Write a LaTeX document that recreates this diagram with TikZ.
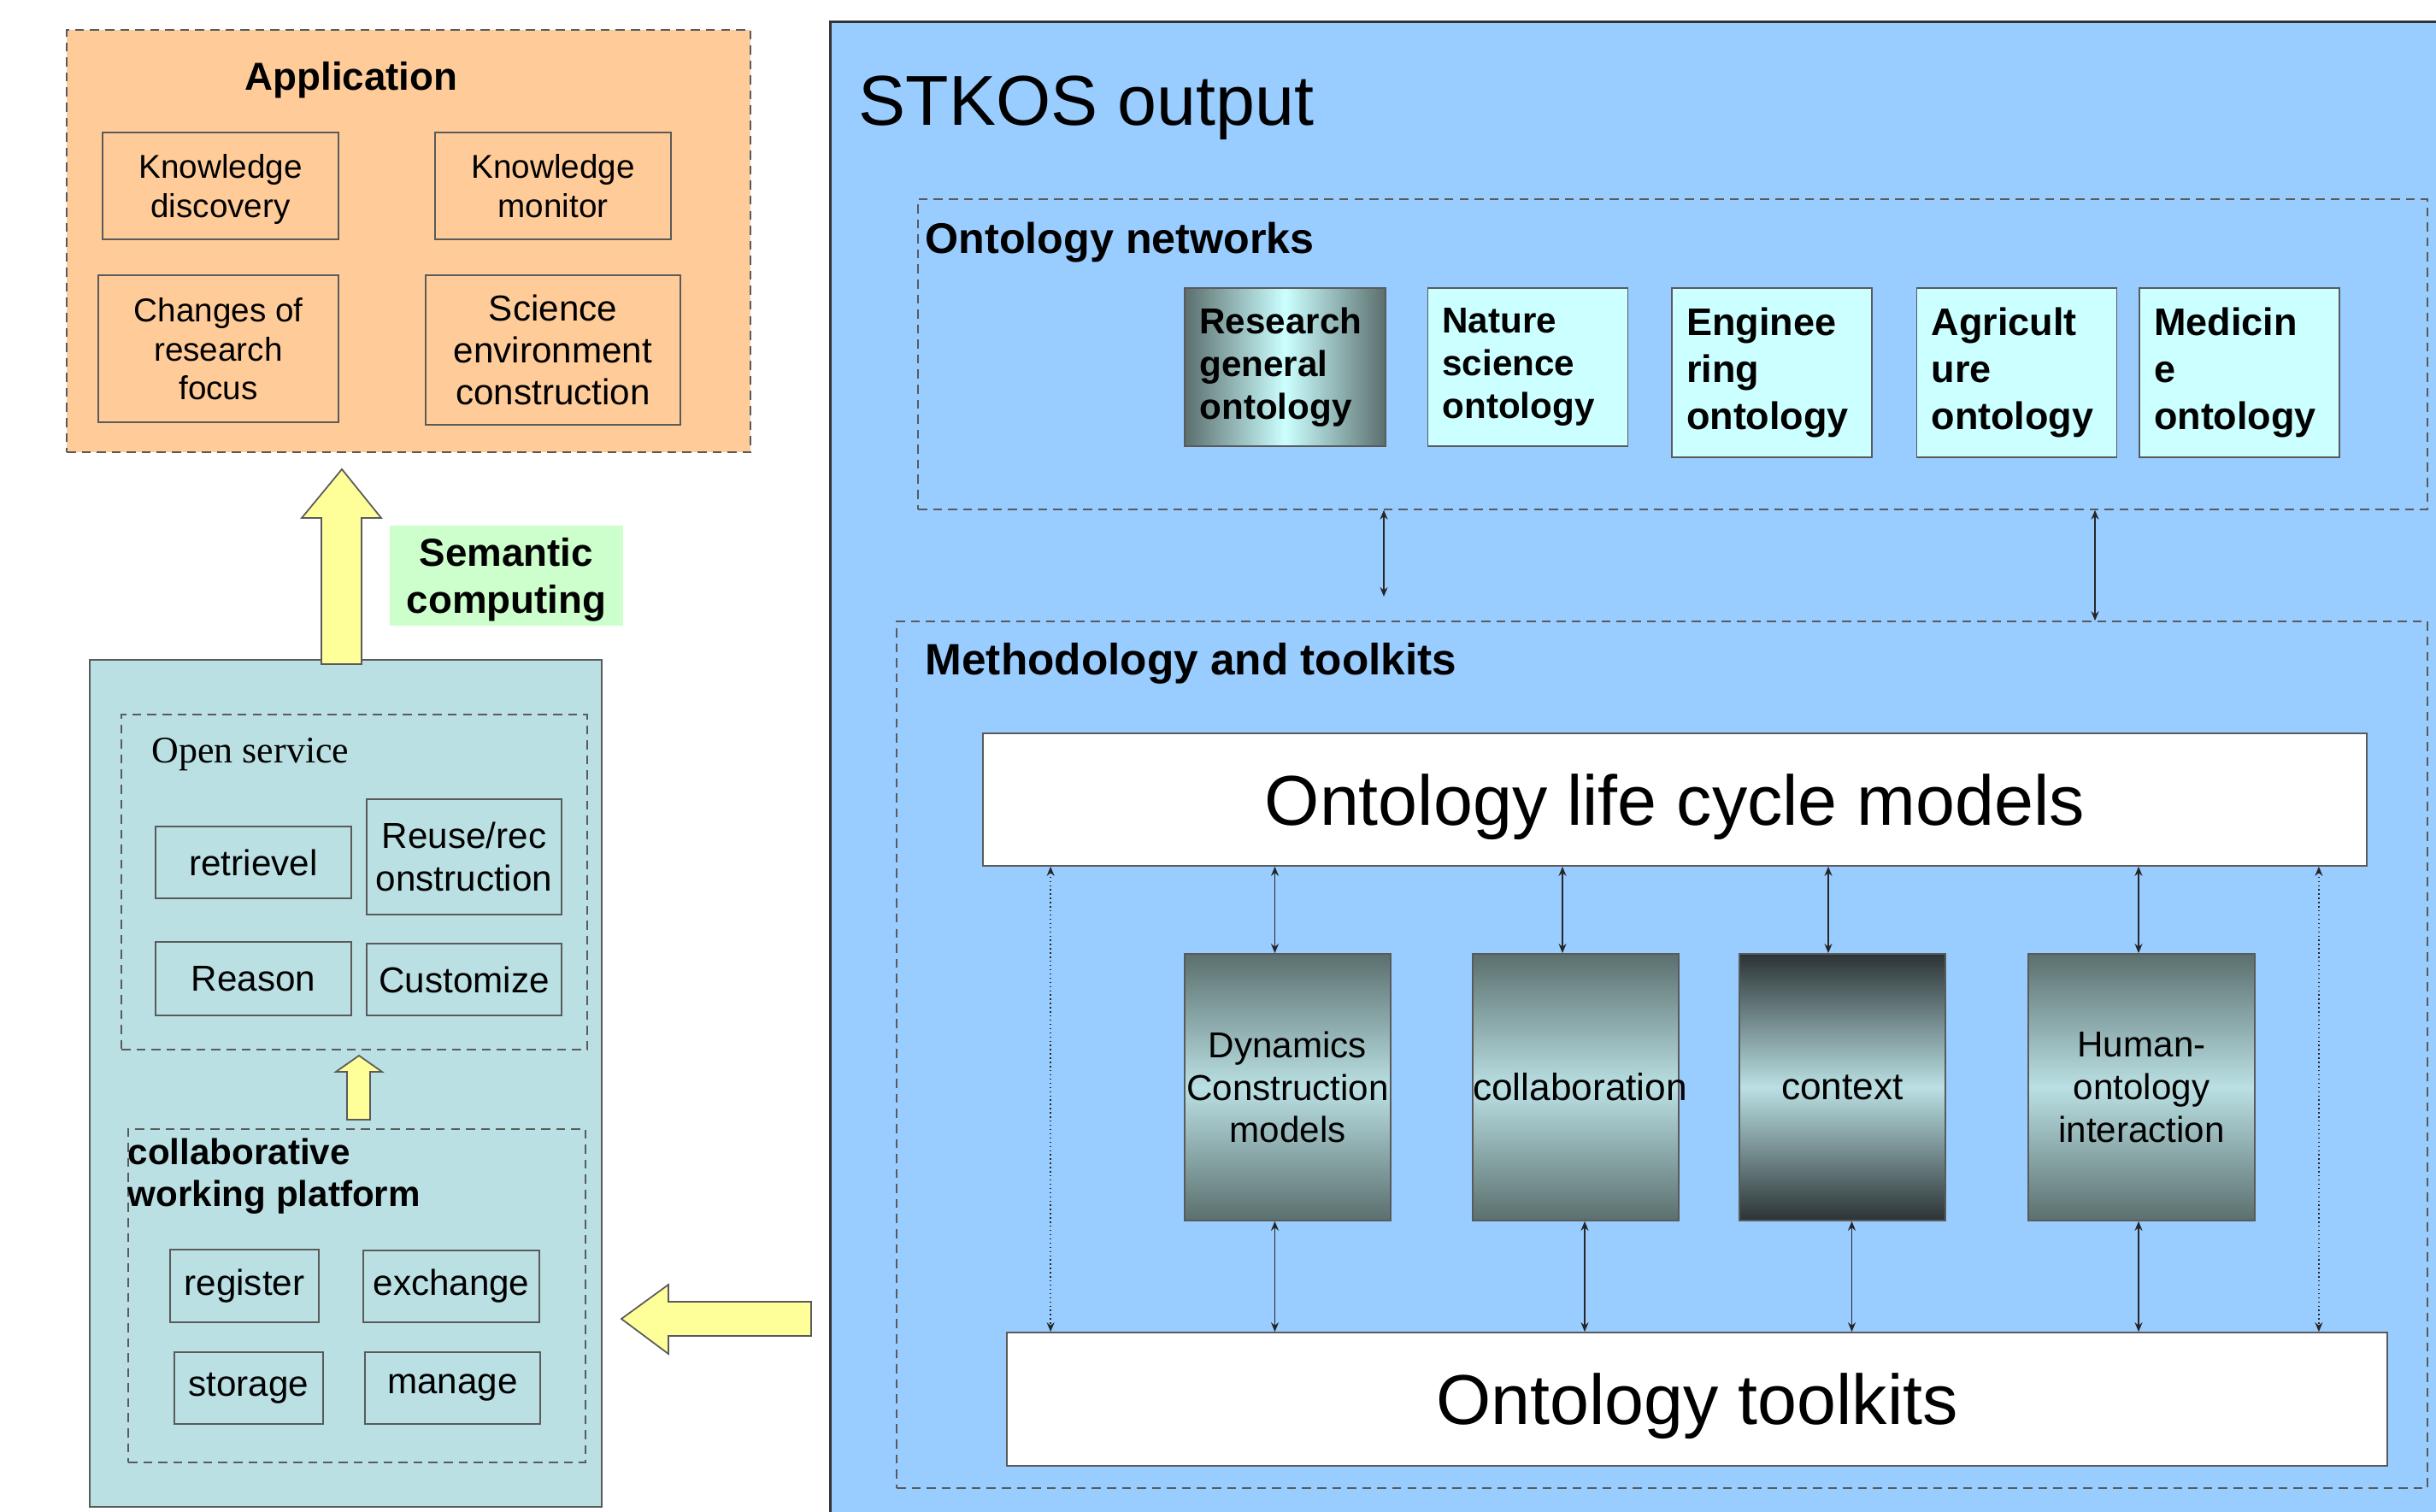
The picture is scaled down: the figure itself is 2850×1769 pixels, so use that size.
\documentclass[tikz,border=0pt]{standalone}
\usepackage{fontspec}
\setmainfont{Liberation Sans}
\newfontfamily\serifface{Liberation Serif}
\usepackage{tikz}
\usetikzlibrary{positioning,arrows.meta}

\definecolor{appfill}{HTML}{FFCC99}
\definecolor{semfill}{HTML}{CCFFCC}
\definecolor{arrowfill}{HTML}{FFFF99}
\definecolor{tealfill}{HTML}{BAE0E3}
\definecolor{stkosfill}{HTML}{99CCFF}
\definecolor{ontfill}{HTML}{CCFFFF}
\definecolor{slate}{HTML}{5B6F6E}
\definecolor{darkslate}{HTML}{2B3335}
\definecolor{edge}{HTML}{5A5A5A}

\begin{document}
\begin{tikzpicture}[x=0.1mm,y=-0.1mm]

\tikzset{
  dims/.style 2 args={minimum width=#1*0.1mm, minimum height=#2*0.1mm},
  plain box/.style={draw=edge, line width=0.5pt, inner sep=0pt, align=center},
  group box/.style={draw=edge, densely dashed, line width=0.45pt},
  onto box/.style={plain box, fill=ontfill, align=left, text width=20mm, inner xsep=1.7mm},
  grad box/.style={plain box, top color=slate, bottom color=slate, middle color=tealfill},
  white box/.style={plain box, fill=white, text depth=0pt, font=\fontsize{23.5}{28}\selectfont},
  block arrow/.style={draw=edge, fill=arrowfill, line width=0.5pt, line join=miter},
  link/.style={draw=black!85, line width=0.4pt, <->, >={Stealth[length=1.1mm,width=0.9mm]}},
  dotted link/.style={link, densely dotted},
  small text/.style={font=\fontsize{11}{12.9}\selectfont, text depth=0pt},
  mid text/.style={font=\fontsize{12}{14.2}\selectfont},
}

\useasboundingbox (0,0) rectangle (2850,1769);

% application side
\node[group box, fill=appfill, dims={800}{494}] (app) at (478,282) {};
\node[font=\fontsize{13}{15}\selectfont\bfseries] (apptitle) at (411,94) {Application};
\node[plain box, small text, dims={276}{125}] (kd) at (258,217.5) {Knowledge\\discovery};
\node[plain box, small text, dims={276}{125}] (km) at (647,217.5) {Knowledge\\monitor};
\node[plain box, small text, dims={281}{172}] (crf) at (255.5,408) {Changes of\\research\\focus};
\node[plain box, font=\fontsize{12}{13.9}\selectfont, text depth=0pt, dims={298}{175}] (sec) at (647,409.5) {Science\\environment\\construction};

\node[fill=semfill, align=center, inner sep=0pt, dims={273}{117}, text depth=0pt,
      font=\fontsize{13}{15.5}\selectfont\bfseries] (sem) at (592.5,673.5) {Semantic\\computing};

% platform side
\node[plain box, draw=edge, line width=0.7pt, fill=tealfill, dims={599}{991}] (plat) at (404.5,1267.5) {};
\draw[block arrow] (376,777) -- (376,606) -- (353,606) -- (400,549) -- (446,606) -- (423,606) -- (423,777) -- cycle;

\node[group box, dims={545}{392}] (open) at (414.5,1032) {};
\node[anchor=west, inner sep=0pt, font=\serifface\fontsize{12.5}{15}\selectfont] (opentitle) at (177,883) {Open service};
\node[plain box, mid text, dims={229}{84}] (ret) at (296.5,1009) {retrievel};
\node[plain box, mid text, dims={228}{135}] (reuse) at (543,1002.5) {Reuse/rec\\onstruction};
\node[plain box, mid text, dims={229}{86}] (reason) at (296.5,1145) {Reason};
\node[plain box, mid text, dims={228}{84}] (cust) at (543,1146) {Customize};

\draw[block arrow] (406,1310) -- (406,1254) -- (393,1254) -- (420,1235) -- (447,1254) -- (433,1254) -- (433,1310) -- cycle;

\node[group box, dims={535}{390}] (collab) at (417.5,1516) {};
\node[anchor=west, align=left, inner sep=0pt, font=\fontsize{12}{13.9}\selectfont\bfseries] (collabtitle) at (149,1376) {collaborative\\working platform};
\node[plain box, mid text, dims={174}{85}] (reg) at (286,1504.5) {register};
\node[plain box, mid text, dims={206}{84}] (exch) at (528,1505) {exchange};
\node[plain box, mid text, dims={174}{84}] (stor) at (291,1624) {storage};
\node[plain box, mid text, dims={205}{84}] (man) at (529.5,1624) {manage};

\draw[block arrow] (949,1523) -- (782,1523) -- (782,1503) -- (727,1543) -- (782,1584) -- (782,1563) -- (949,1563) -- cycle;

% STKOS output
\node[draw=black!80, line width=0.8pt, fill=stkosfill, anchor=north west, dims={1900}{1760}] (stkos) at (970,24) {};
\node[anchor=base west, inner sep=0pt, font=\fontsize{23.5}{28}\selectfont] (stkostitle) at (1004,147) {STKOS output};

\node[group box, dims={1766}{363}] (onet) at (1957,414.5) {};
\node[anchor=base west, inner sep=0pt, font=\fontsize{14.3}{17}\selectfont\bfseries] (onettitle) at (1082,297) {Ontology networks};

\node[plain box, align=left, text width=20mm, inner xsep=1.7mm, left color=slate, right color=slate, middle color=ontfill,
      dims={235}{185}, font=\fontsize{12}{14.2}\selectfont\bfseries] (rgo) at (1503.5,429.5) {Research\\general\\ontology};
\node[onto box, dims={234}{185}, font=\fontsize{12}{14.2}\selectfont\bfseries] (nso) at (1787.5,429.5) {Nature\\science\\ontology};
\node[onto box, dims={234}{198}, font=\fontsize{12.8}{15.6}\selectfont\bfseries] (eng) at (2073,436) {Enginee\\ring\\ontology};
\node[onto box, dims={234}{198}, font=\fontsize{12.8}{15.6}\selectfont\bfseries] (agr) at (2359.5,436) {Agricult\\ure\\ontology};
\node[onto box, dims={234}{198}, font=\fontsize{12.8}{15.6}\selectfont\bfseries] (med) at (2620,436) {Medicin\\e\\ontology};

\node[group box, dims={1791}{1014}] (meth) at (1944.5,1234) {};
\node[anchor=base west, inner sep=0pt, font=\fontsize{14.6}{17}\selectfont\bfseries] (methtitle) at (1082,790) {Methodology and toolkits};

\coordinate (lend) at (1619,698);
\draw[link] (lend |- onet.south) -- (lend);
\draw[link] (2451,0 |- onet.south) -- (2451,0 |- meth.north);

\node[white box, dims={1619}{155}] (olc) at (1959.5,935.5) {Ontology life cycle models};
\node[white box, dims={1615}{156}] (tk) at (1985.5,1637) {Ontology toolkits};

\node[grad box, mid text, text width=24.1mm, dims={241}{312}] (dyn) at (1506.5,1272) {Dynamics\\Construction\\models};
\node[grad box, font=\fontsize{12.6}{14.2}\selectfont, text width=24.1mm, dims={241}{312}] (col) at (1843.5,1272) {collaboration};
\node[grad box, top color=darkslate, bottom color=darkslate, middle color=tealfill,
      font=\fontsize{12.6}{14.2}\selectfont, text width=24.1mm, dims={241}{312}] (ctx) at (2155.5,1272) {context};
\node[grad box, mid text, text width=26.5mm, dims={265}{312}] (hoi) at (2505.5,1272) {Human-\\ontology\\interaction};

% links between the layers
\draw[dotted link] ([xshift=8mm]olc.south west) -- ([xshift=8mm]olc.south west |- tk.north);
\draw[dotted link] ([xshift=-5.7mm]olc.south east) -- ([xshift=-5.7mm]olc.south east |- tk.north);
\draw[link] ([xshift=-1.5mm]dyn.north |- olc.south) -- ([xshift=-1.5mm]dyn.north);
\draw[link] ([xshift=-1.5mm]dyn.south) -- ([xshift=-1.5mm]dyn.south |- tk.north);
\draw[link] ([xshift=-1.55mm]col.north |- olc.south) -- ([xshift=-1.55mm]col.north);
\draw[link] ([xshift=1.05mm]col.south) -- ([xshift=1.05mm]col.south |- tk.north);
\draw[link] ([xshift=-1.65mm]ctx.north |- olc.south) -- ([xshift=-1.65mm]ctx.north);
\draw[link] ([xshift=1.1mm]ctx.south) -- ([xshift=1.1mm]ctx.south |- tk.north);
\draw[link] ([xshift=-0.35mm]hoi.north |- olc.south) -- ([xshift=-0.35mm]hoi.north);
\draw[link] ([xshift=-0.35mm]hoi.south) -- ([xshift=-0.35mm]hoi.south |- tk.north);

\end{tikzpicture}
\end{document}
